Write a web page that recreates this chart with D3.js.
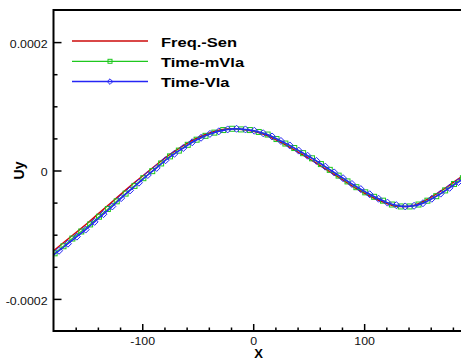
<!DOCTYPE html>
<html>
<head>
<meta charset="utf-8">
<script src="https://cdn.jsdelivr.net/npm/d3@7"></script>
<style>
  body { margin: 0; background: #fff; }
  svg { display: block; font-family: "Liberation Sans", Arial, sans-serif; }
</style>
</head>
<body>
<script>
// Freq.-Sen (solid red line)
var freqX = [-190, -180, -170, -160, -150, -140, -130, -120, -110, -100, -90, -80, -70, -60, -50, -40, -30, -20, -10,
    0, 10, 20, 30, 40, 50, 60, 70, 80, 90, 100, 110, 120, 130, 140, 150, 160, 170, 180, 190];
var freqY = [-0.000139, -0.000125, -0.000111, -0.000097, -0.000083, -0.000068, -0.000053, -0.000038, -0.000023, -0.000009,
    0.000005, 0.000019, 0.000031, 0.000042, 0.000051, 0.000058, 0.000063, 0.000065, 0.000064,
    0.000061, 0.000056, 0.000048, 0.000039, 0.000029, 0.000019, 0.000008, -0.000003, -0.000014, -0.000025,
    -0.000035, -0.000044, -0.000051, -0.000056, -0.000056, -0.000051, -0.000042, -0.000031, -0.000019, -0.000007];

// Time-mVla (green, square markers)
var mvlaX = [-187, -179, -171, -163, -155, -147, -139, -131, -123, -115, -107, -99, -91, -83, -75, -67, -59, -51, -43,
    -35, -27, -19, -11, -3, 5, 13, 21, 29, 37, 45, 53, 61, 69, 77, 85, 93, 101, 109, 117, 125, 133, 141, 149, 157,
    165, 173, 181, 189];
var mvlaY = [-0.000140, -0.000129, -0.000118, -0.000106, -0.000095, -0.000084, -0.000072, -0.000060, -0.000048, -0.000036,
    -0.000024, -0.000012, -0.000001, 0.000011, 0.000022, 0.000031, 0.000040, 0.000048, 0.000054,
    0.000059, 0.000063, 0.000065, 0.000064, 0.000063, 0.000060, 0.000056, 0.000049, 0.000042, 0.000035,
    0.000027, 0.000019, 0.000010, 0.000001, -0.000008, -0.000017, -0.000026, -0.000034, -0.000041, -0.000047,
    -0.000053, -0.000056, -0.000056, -0.000053, -0.000047, -0.000040, -0.000031, -0.000021, -0.000012];

// Time-Vla (blue, diamond markers)
var vlaX = [-183, -175, -167, -159, -151, -143, -135, -127, -119, -111, -103, -95, -87, -79, -71, -63, -55, -47, -39,
    -31, -23, -15, -7, 1, 9, 17, 25, 33, 41, 49, 57, 65, 73, 81, 89, 97, 105, 113, 121, 129, 137, 145, 153, 161,
    169, 177, 185, 193];
var vlaY = [-0.000136, -0.000125, -0.000114, -0.000103, -0.000092, -0.000080, -0.000068, -0.000056, -0.000043, -0.000031,
    -0.000019, -0.000007, 0.000004, 0.000016, 0.000026, 0.000035, 0.000044, 0.000051, 0.000057,
    0.000061, 0.000064, 0.000065, 0.000064, 0.000062, 0.000058, 0.000053, 0.000046, 0.000039, 0.000031,
    0.000023, 0.000015, 0.000006, -0.000003, -0.000012, -0.000021, -0.000029, -0.000037, -0.000044, -0.000050,
    -0.000054, -0.000056, -0.000055, -0.000051, -0.000044, -0.000036, -0.000027, -0.000018, -0.000009];

var xMajor = [-100, 0, 100];
var xMinor = [-160, -140, -120, -80, -60, -40, -20, 20, 40, 60, 80, 120, 140, 160, 180];
var yMajor = [-0.0002, 0, 0.0002];
var yMinor = [-0.00015, -0.0001, -0.00005, 0.00005, 0.0001, 0.00015];
var yLabels = ["-0.0002", "0", "0.0002"];
var seriesNames = ["Freq.-Sen", "Time-mVla", "Time-Vla"];

var width = 461;
var height = 361;
// the source picture is stretched sideways, so text is too
var stretch = 1.18;

var svg = d3.select("body").append("svg")
    .attr("width", width)
    .attr("height", height);

var xScale = d3.scaleLinear().domain([-180, 190]).range([53.5, 464]);
var yScale = d3.scaleLinear().domain([-0.00025, 0.00025]).range([331, 10]);

svg.append("clipPath").attr("id", "plot")
    .append("rect")
    .attr("x", xScale(-180)).attr("y", yScale(0.00025))
    .attr("width", xScale(190) - xScale(-180))
    .attr("height", yScale(-0.00025) - yScale(0.00025));

function toPoints(xs, ys) {
    return xs.map(function (x, i) { return [x, ys[i]]; });
}

var line = d3.line()
    .x(function (d) { return xScale(d[0]); })
    .y(function (d) { return yScale(d[1]); })
    .curve(d3.curveMonotoneX);

var plot = svg.append("g").attr("clip-path", "url(#plot)");

var red = "#cc0a0a", green = "#1ec81e", blue = "#2525f5";

plot.append("path")
    .attr("d", line(toPoints(freqX, freqY)))
    .attr("fill", "none").attr("stroke", red).attr("stroke-width", 1.5);

var mvla = toPoints(mvlaX, mvlaY);
plot.append("path")
    .attr("d", line(mvla))
    .attr("fill", "none").attr("stroke", green).attr("stroke-width", 1.2);
plot.selectAll("rect.sq")
    .data(mvla)
    .enter()
    .append("rect")
    .attr("class", "sq")
    .attr("x", function (d) { return xScale(d[0]) - 2.5; })
    .attr("y", function (d) { return yScale(d[1]) - 2.5; })
    .attr("width", 5).attr("height", 5)
    .attr("fill", "none").attr("stroke", green).attr("stroke-width", 1);

var vla = toPoints(vlaX, vlaY);
plot.append("path")
    .attr("d", line(vla))
    .attr("fill", "none").attr("stroke", blue).attr("stroke-width", 1.5);
var diamond = "M0,-3.5L3.5,0L0,3.5L-3.5,0Z";
plot.selectAll("path.dia")
    .data(vla)
    .enter()
    .append("path")
    .attr("class", "dia")
    .attr("d", diamond)
    .attr("transform", function (d) {
        return "translate(" + xScale(d[0]) + "," + yScale(d[1]) + ")";
    })
    .attr("fill", "none").attr("stroke", blue).attr("stroke-width", 1);

// axes, ticks pointing inward
function styleAxis(g) {
    g.selectAll("line").attr("stroke", "#000").attr("stroke-width", 1.5);
    g.selectAll("text").attr("fill", "#111").attr("font-size", "10.5px")
        .attr("font-family", "'Liberation Sans', Arial, sans-serif")
        .attr("transform", "scale(" + stretch + ",1)");
}

var xAxisG = svg.append("g").attr("transform", "translate(0," + yScale(-0.00025) + ")");
xAxisG.append("g").call(d3.axisBottom(xScale).tickValues(xMinor).tickSize(-3.5).tickFormat(""))
    .call(styleAxis).select(".domain").remove();
xAxisG.append("g").call(d3.axisBottom(xScale).tickValues(xMajor).tickSize(-7).tickPadding(6.5)
        .tickFormat(function (d) { return String(d); }))
    .call(styleAxis).select(".domain").remove();

var yAxisG = svg.append("g").attr("transform", "translate(" + xScale(-180) + ",0)");
yAxisG.append("g").call(d3.axisLeft(yScale).tickValues(yMinor).tickSize(-4).tickFormat(""))
    .call(styleAxis).select(".domain").remove();
yAxisG.append("g").call(d3.axisLeft(yScale).tickValues(yMajor).tickSize(-8).tickPadding(5)
        .tickFormat(function (d, i) { return yLabels[i]; }))
    .call(styleAxis)
    .call(function (g) { g.selectAll("text").attr("dy", "0.52em"); })
    .select(".domain").remove();

// frame: left, bottom, top
var x0 = xScale(-180), x1 = xScale(190), y0 = yScale(-0.00025), y1 = yScale(0.00025);
svg.append("path")
    .attr("d", "M" + x1 + "," + y1 + "H" + x0 + "V" + y0 + "H" + x1)
    .attr("fill", "none").attr("stroke", "#000").attr("stroke-width", 2);

svg.append("text")
    .attr("x", 258.7).attr("y", 358.3)
    .attr("text-anchor", "middle")
    .attr("font-size", "13px").attr("font-weight", "bold")
    .text("X");

svg.append("text")
    .attr("transform", "translate(24," + yScale(0) + ") rotate(-90)")
    .attr("text-anchor", "middle")
    .attr("font-size", "14px").attr("font-weight", "bold")
    .text("Uy");

// legend
var legend = svg.append("g");
var colors = [red, green, blue];
seriesNames.forEach(function (name, i) {
    var ly = 41 + i * 20.3;
    legend.append("line")
        .attr("x1", 72).attr("x2", 148).attr("y1", ly).attr("y2", ly)
        .attr("stroke", colors[i]).attr("stroke-width", i === 1 ? 1.2 : 1.5);
    if (i === 1) {
        legend.append("rect").attr("x", 110 - 2).attr("y", ly - 2).attr("width", 4).attr("height", 4)
            .attr("fill", "none").attr("stroke", green).attr("stroke-width", 1);
    }
    if (i === 2) {
        legend.append("path").attr("d", "M0,-2.8L2.8,0L0,2.8L-2.8,0Z")
            .attr("transform", "translate(110," + ly + ")")
            .attr("fill", "none").attr("stroke", blue).attr("stroke-width", 1);
    }
    legend.append("text")
        .attr("transform", "translate(161," + (ly + 5.8) + ") scale(1.27,1)")
        .attr("font-size", "13px").attr("font-weight", "bold")
        .text(name);
});
</script>
</body>
</html>
